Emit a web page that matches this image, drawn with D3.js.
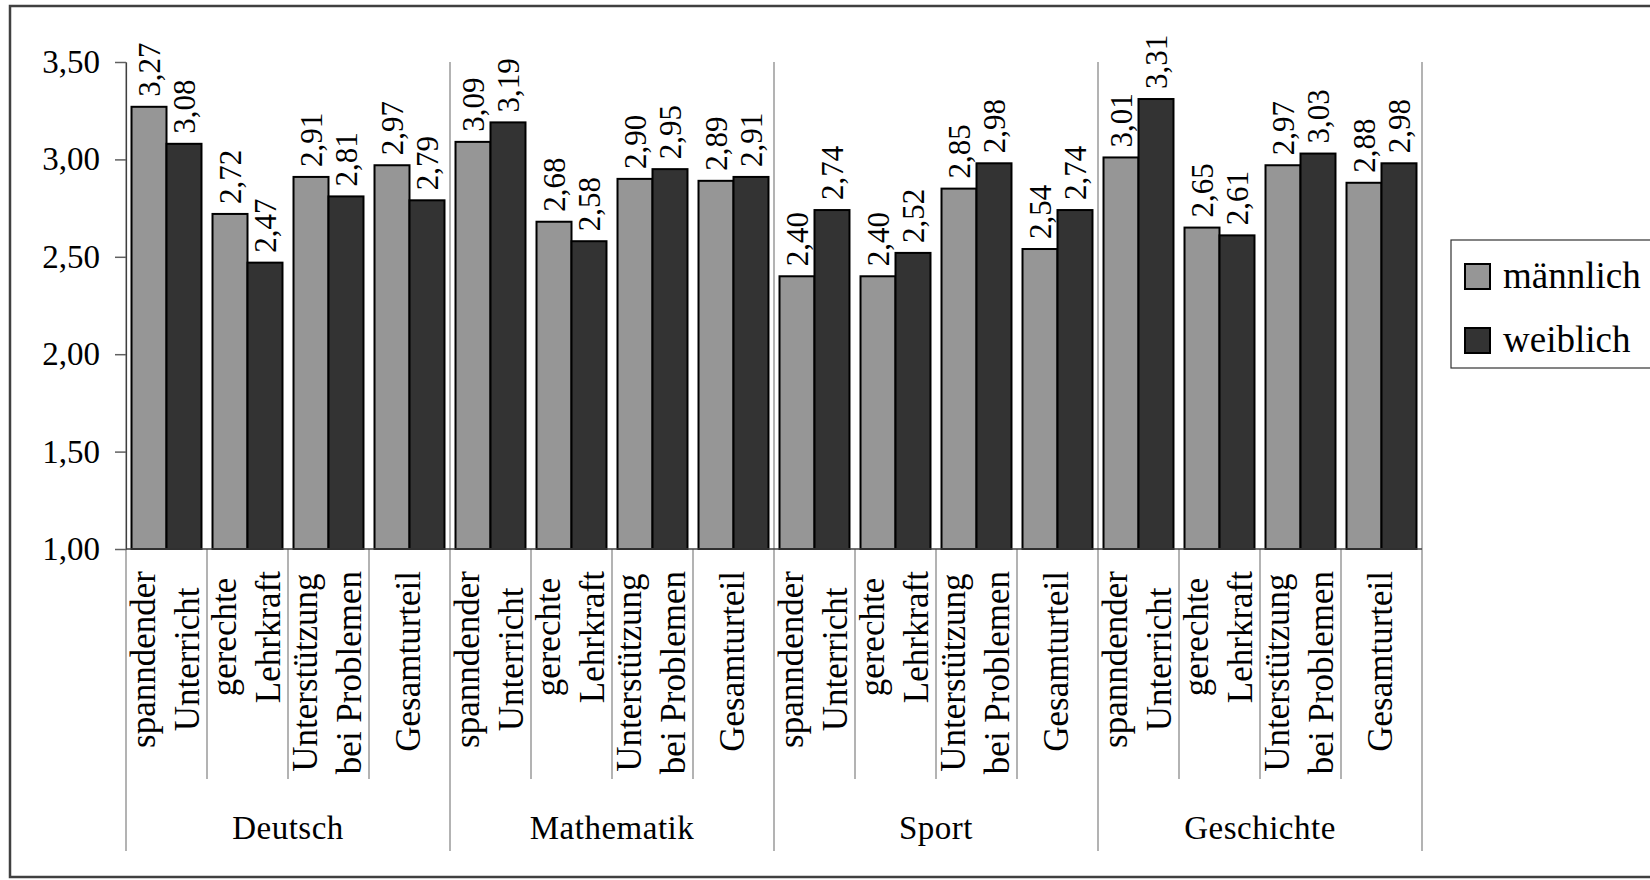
<!DOCTYPE html>
<html><head><meta charset="utf-8">
<script src="https://cdn.jsdelivr.net/npm/d3@7"></script>
<style>body{margin:0;background:#fff} svg{display:block} text{font-family:'Liberation Serif','Times New Roman',serif;}</style>
</head><body>
<svg id="c" width="1650" height="880"></svg>
<script>
const groups = ["Deutsch", "Mathematik", "Sport", "Geschichte"];
const subLabels = [["spanndender", "Unterricht"], ["gerechte", "Lehrkraft"], ["Unterstützung", "bei Problemen"], ["Gesamturteil"]];
const series = ["männlich", "weiblich"];
const maennlich = [3.27, 2.72, 2.91, 2.97, 3.09, 2.68, 2.90, 2.89, 2.40, 2.40, 2.85, 2.54, 3.01, 2.65, 2.97, 2.88];
const weiblich  = [3.08, 2.47, 2.81, 2.79, 3.19, 2.58, 2.95, 2.91, 2.74, 2.52, 2.98, 2.74, 3.31, 2.61, 3.03, 2.98];
const yTicks = [1.0, 1.5, 2.0, 2.5, 3.0, 3.5];

const colors = {"männlich": "#969696", "weiblich": "#333333"};
const font = "'Liberation Serif','Times New Roman',serif";
const fmt = d => d3.format(".2f")(d).replace(".", ",");

const svg = d3.select("#c").style("font-family", font);
const L = 126, R = 1422, T = 62, B = 549;

// outer chart border
svg.append("rect").attr("x", 10).attr("y", 6).attr("width", 1700).attr("height", 871)
  .attr("fill", "none").attr("stroke", "#404040").attr("stroke-width", 2.5);

const keys = [];
groups.forEach(g => subLabels.forEach((s, si) => keys.push(g + "|" + si)));
const rows = keys.map((k, i) => ({k, g: k.split("|")[0], si: +k.split("|")[1], vals: [maennlich[i], weiblich[i]]}));

const x0 = d3.scaleBand().domain(keys).range([L, R]).paddingInner(0.136).paddingOuter(0.068);
const xs = d3.scaleBand().domain(series).range([0, x0.bandwidth()]);
const xc = d3.scaleBand().domain(keys).range([L, R]);
const xg = d3.scaleBand().domain(groups).range([L, R]);
const y = d3.scaleLinear().domain([1, 3.5]).range([B, T]);

// group separators (full height)
const gLines = groups.map(g => xg(g)).concat([R]);
svg.append("g").selectAll("line").data(gLines).join("line")
  .attr("x1", d => d).attr("x2", d => d).attr("y1", T).attr("y2", 851)
  .attr("stroke", "#808080").attr("stroke-width", 1.2);

// sub-category separators
svg.append("g").selectAll("line").data(rows.filter(r => r.si > 0)).join("line")
  .attr("x1", r => xc(r.k)).attr("x2", r => xc(r.k)).attr("y1", B).attr("y2", 779)
  .attr("stroke", "#808080").attr("stroke-width", 1.2);

// bars
const cat = svg.append("g").selectAll("g").data(rows).join("g")
  .attr("transform", r => `translate(${x0(r.k)},0)`);
cat.selectAll("rect").data(r => series.map((s, i) => ({s, v: r.vals[i]}))).join("rect")
  .attr("x", d => xs(d.s)).attr("y", d => y(d.v))
  .attr("width", xs.bandwidth()).attr("height", d => B - y(d.v))
  .attr("fill", d => colors[d.s]).attr("stroke", "#000").attr("stroke-width", 2);
cat.selectAll("text").data(r => series.map((s, i) => ({s, v: r.vals[i]}))).join("text")
  .attr("transform", d => `translate(${xs(d.s) + xs.bandwidth() / 2},${y(d.v) - 10}) rotate(-90)`)
  .attr("dy", "0.34em").attr("text-anchor", "start")
  .style("font-family", font).style("font-size", "31px").attr("fill", "#000")
  .text(d => fmt(d.v));

// y axis
const yAxis = svg.append("g").attr("transform", `translate(${L},0)`)
  .call(d3.axisLeft(y).tickValues(yTicks).tickSize(11).tickSizeOuter(0).tickPadding(15).tickFormat(fmt));
yAxis.attr("font-family", font);
yAxis.select(".domain").attr("stroke", "#404040").attr("stroke-width", 1.2);
yAxis.selectAll(".tick line").attr("stroke", "#606060").attr("stroke-width", 1.5);
yAxis.selectAll(".tick text").style("font-size", "33px").style("font-family", font).attr("fill", "#000");

// x baseline
svg.append("line").attr("x1", L).attr("x2", R).attr("y1", B).attr("y2", B)
  .attr("stroke", "#404040").attr("stroke-width", 1.5);

// category labels (rotated, block top-aligned, lines centered)
const labG = svg.append("g");
rows.forEach(r => {
  const lines = subLabels[r.si];
  const g = labG.append("g").attr("transform", `translate(${xc(r.k) + xc.bandwidth() / 2},571) rotate(-90)`);
  const ts = lines.map(t => g.append("text").style("font-family", font).style("font-size", "35px").attr("text-anchor", "middle").text(t));
  const maxW = d3.max(ts, t => t.node().getComputedTextLength());
  const offs = lines.length === 1 ? [10] : [-12, 32];
  ts.forEach((t, i) => t.attr("x", -maxW / 2).attr("y", offs[i]));
});

// group labels
svg.append("g").selectAll("text").data(groups).join("text")
  .attr("x", g => xg(g) + xg.bandwidth() / 2).attr("y", 839)
  .attr("text-anchor", "middle").style("font-family", font).style("font-size", "33px").style("letter-spacing", "0.5px")
  .text(g => g);

// legend
const lg = svg.append("g");
lg.append("rect").attr("x", 1451).attr("y", 240).attr("width", 260).attr("height", 128)
  .attr("fill", "#fff").attr("stroke", "#333").attr("stroke-width", 1.2);
const li = lg.selectAll("g").data(series).join("g")
  .attr("transform", (d, i) => `translate(1465,${264 + i * 64})`);
li.append("rect").attr("width", 25).attr("height", 25)
  .attr("fill", d => colors[d]).attr("stroke", "#000").attr("stroke-width", 2);
li.append("text").attr("x", 38).attr("y", 24).style("font-family", font).style("font-size", "37px").text(d => d);
</script>
</body></html>
